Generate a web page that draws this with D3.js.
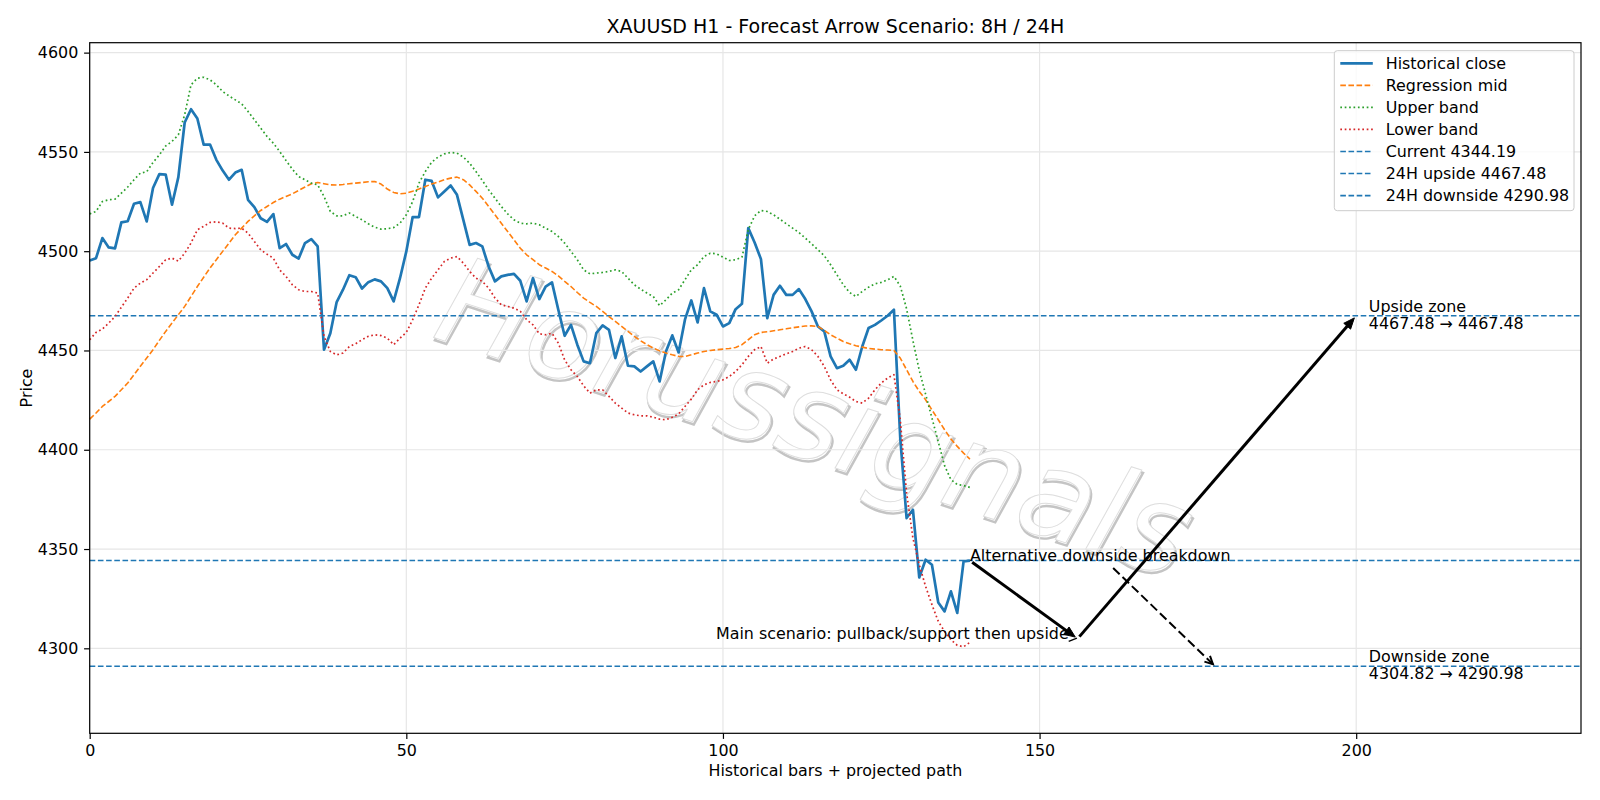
<!DOCTYPE html>
<html>
<head>
<meta charset="utf-8">
<script src="https://cdn.jsdelivr.net/npm/d3@7"></script>
<style>
  body { margin: 0; background: #fff; }
  svg { display: block; font-family: "DejaVu Sans", sans-serif; }
</style>
</head>
<body>
<svg id="chart"></svg>
<script>
// values, one per H1 bar (0..139)
const closeSeries = [
  4495.3, 4496.5, 4506.6, 4501.9, 4501.4, 4514.5, 4515.1, 4523.9, 4524.7, 4515.0,
  4531.8, 4538.8, 4538.6, 4523.4, 4537.3, 4564.8, 4571.5, 4566.8, 4553.7, 4553.7,
  4546.0, 4540.6, 4536.0, 4539.6, 4541.0, 4525.9, 4522.2, 4516.6, 4514.8, 4518.7,
  4501.5, 4503.6, 4498.2, 4496.3, 4504.1, 4506.1, 4502.4, 4450.4, 4458.7, 4474.4,
  4480.6, 4487.9, 4486.9, 4481.2, 4484.4, 4485.8, 4484.8, 4481.4, 4474.7, 4486.4,
  4499.9, 4517.2, 4517.2, 4536.0, 4535.4, 4527.1, 4530.1, 4533.1, 4528.4, 4515.8,
  4503.2, 4504.1, 4502.4, 4492.3, 4484.8, 4487.3, 4488.1, 4488.6, 4485.1, 4474.7,
  4486.4, 4475.9, 4482.2, 4484.3, 4470.5, 4457.4, 4462.9, 4452.9, 4444.5, 4443.6,
  4458.7, 4462.6, 4460.4, 4446.2, 4457.1, 4442.3, 4442.0, 4439.4, 4442.0, 4444.5,
  4434.4, 4449.5, 4457.6, 4449.0, 4465.5, 4475.2, 4464.1, 4481.4, 4469.7, 4468.0,
  4462.1, 4463.8, 4470.8, 4473.5, 4511.6, 4504.4, 4496.0, 4466.3, 4478.0, 4482.6,
  4478.0, 4478.0, 4480.9, 4475.9, 4469.7, 4462.1, 4459.6, 4447.0, 4441.1, 4442.3,
  4445.3, 4440.3, 4452.0, 4461.3, 4462.9, 4465.1, 4467.5, 4470.5, 4405.9, 4365.6,
  4369.8, 4335.7, 4344.6, 4342.1, 4323.1, 4318.6, 4328.7, 4317.8, 4343.8, 4344.19
];

const regMid = [
  4415.4, 4418.5, 4421.8, 4424.3, 4426.9, 4430.2, 4433.6, 4437.8, 4442.0, 4446.2,
  4450.4, 4455.1, 4459.6, 4463.8, 4468.0, 4472.2, 4477.2, 4482.2, 4486.9, 4491.5,
  4495.7, 4499.9, 4504.1, 4508.3, 4511.6, 4515.0, 4517.8, 4520.5, 4522.5, 4524.5,
  4526.2, 4527.6, 4528.9, 4530.6, 4532.3, 4534.0, 4534.6, 4534.0, 4533.4, 4533.3,
  4533.6, 4534.0, 4534.3, 4534.6, 4535.0, 4535.1, 4533.8, 4531.3, 4529.6, 4528.9,
  4529.2, 4530.2, 4531.3, 4532.6, 4533.8, 4534.8, 4536.0, 4536.8, 4537.3, 4536.0,
  4533.4, 4530.1, 4526.7, 4522.5, 4518.3, 4514.1, 4509.9, 4505.7, 4501.5, 4498.2,
  4495.7, 4493.2, 4491.5, 4489.8, 4487.6, 4484.8, 4482.2, 4479.2, 4476.4, 4474.2,
  4472.2, 4469.7, 4467.1, 4464.6, 4462.1, 4459.6, 4457.1, 4454.9, 4452.9, 4451.2,
  4449.8, 4448.7, 4447.8, 4447.0, 4447.0, 4447.8, 4448.7, 4449.5, 4450.0, 4450.4,
  4450.7, 4451.0, 4451.5, 4452.9, 4455.4, 4457.9, 4459.1, 4459.4, 4459.9, 4460.4,
  4460.9, 4461.4, 4461.9, 4462.3, 4462.4, 4462.1, 4460.1, 4457.9, 4456.2, 4454.5,
  4453.4, 4452.4, 4451.7, 4451.0, 4450.7, 4450.4, 4450.2, 4450.0, 4446.2, 4440.3,
  4434.4, 4429.4, 4425.2, 4420.1, 4415.1, 4410.1, 4405.4, 4401.7, 4398.3, 4395.3
];

const upperBand = [
  4518.8, 4520.0, 4525.0, 4525.9, 4526.2, 4529.2, 4532.3, 4536.0, 4539.3, 4540.0,
  4544.7, 4548.5, 4553.0, 4555.3, 4558.6, 4568.7, 4583.8, 4587.1, 4587.6, 4586.3,
  4583.8, 4580.4, 4578.2, 4576.2, 4574.2, 4570.4, 4566.2, 4562.0, 4557.8, 4554.4,
  4550.2, 4545.7, 4541.3, 4537.6, 4536.0, 4534.3, 4533.4, 4527.6, 4520.0, 4517.8,
  4517.8, 4519.2, 4517.5, 4515.8, 4513.8, 4512.1, 4511.1, 4511.3, 4511.9, 4514.1,
  4518.3, 4525.0, 4534.3, 4540.1, 4544.8, 4547.4, 4549.0, 4549.7, 4549.4, 4547.4,
  4544.3, 4540.1, 4535.6, 4530.9, 4526.7, 4522.5, 4518.8, 4515.8, 4514.1, 4513.8,
  4514.1, 4513.3, 4511.6, 4509.9, 4507.4, 4504.1, 4499.9, 4495.7, 4490.6, 4488.6,
  4489.0, 4489.3, 4489.8, 4490.6, 4489.8, 4486.4, 4483.1, 4480.9, 4478.9, 4477.2,
  4472.6, 4475.5, 4478.9, 4480.6, 4485.6, 4490.6, 4493.2, 4497.3, 4499.0, 4498.7,
  4497.0, 4495.3, 4495.7, 4497.0, 4510.8, 4517.8, 4520.5, 4520.0, 4518.3, 4516.1,
  4513.8, 4511.6, 4509.4, 4506.6, 4503.7, 4500.7, 4497.7, 4493.2, 4488.1, 4483.1,
  4479.2, 4477.2, 4479.7, 4481.9, 4483.6, 4484.3, 4485.6, 4487.3, 4482.5, 4471.0,
  4455.0, 4440.0, 4428.0, 4416.0, 4404.0, 4392.0, 4385.0, 4382.5, 4382.0, 4381.0
];

const lowerBand = [
  4455.4, 4459.1, 4460.8, 4463.8, 4467.1, 4471.8, 4476.4, 4481.4, 4483.9, 4485.6,
  4489.0, 4492.3, 4495.7, 4496.5, 4495.0, 4499.0, 4504.1, 4510.8, 4512.5, 4514.5,
  4514.8, 4514.1, 4511.6, 4511.4, 4511.6, 4509.1, 4504.9, 4500.7, 4498.5, 4496.5,
  4490.6, 4487.3, 4483.1, 4480.6, 4479.7, 4479.7, 4478.9, 4457.1, 4449.5, 4447.8,
  4448.7, 4452.0, 4453.4, 4455.4, 4457.1, 4457.9, 4457.5, 4456.2, 4452.9, 4456.2,
  4459.1, 4465.5, 4473.0, 4481.4, 4486.4, 4490.6, 4494.8, 4496.5, 4497.3, 4494.0,
  4489.8, 4486.4, 4484.8, 4481.4, 4476.4, 4473.0, 4472.2, 4471.3, 4469.7, 4465.5,
  4462.9, 4458.4, 4457.9, 4458.7, 4453.7, 4445.3, 4440.3, 4436.9, 4432.2, 4428.5,
  4430.2, 4430.2, 4426.9, 4423.5, 4421.0, 4418.5, 4417.6, 4417.1, 4417.1, 4416.4,
  4415.4, 4415.1, 4416.4, 4418.0, 4421.8, 4425.5, 4430.2, 4432.7, 4433.9, 4434.4,
  4435.2, 4436.9, 4439.4, 4442.8, 4447.0, 4450.4, 4452.0, 4443.6, 4445.7, 4447.0,
  4448.3, 4449.5, 4451.2, 4452.0, 4450.4, 4447.0, 4442.0, 4435.2, 4430.2, 4428.2,
  4426.5, 4424.3, 4423.5, 4426.0, 4430.2, 4433.6, 4436.1, 4437.8, 4415.1, 4378.2,
  4355.5, 4342.1, 4331.2, 4322.0, 4313.6, 4308.5, 4304.3, 4301.5, 4300.8, 4303.0
];

// horizontal reference levels
const levelValues = [4344.19, 4467.48, 4290.98];
const levelNames = ["Current 4344.19", "24H upside 4467.48", "24H downside 4290.98"];

// projected path: current -> pullback -> upside target, and the alternative breakdown
const mainPath = [[139, 4344.19], [156, 4304.82], [200, 4467.48]];
const altPath = [[161.3, 4341.4], [177.7, 4290.98]];

const seriesNames = ["Historical close", "Regression mid", "Upper band", "Lower band"];
const xTicks = [0, 50, 100, 150, 200];
const yTicks = [4300, 4350, 4400, 4450, 4500, 4550, 4600];

const titleText = "XAUUSD H1 - Forecast Arrow Scenario: 8H / 24H";
const zoneUp = ["Upside zone", "4467.48 \u2192 4467.48"];
const zoneDown = ["Downside zone", "4304.82 \u2192 4290.98"];

const width = 1600, height = 800;
const margin = { top: 42.7, right: 19, bottom: 66.7, left: 89.7 };
const fs = 15.9;

const svg = d3.select("#chart").attr("width", width).attr("height", height);

const x = d3.scaleLinear().domain([0, 235.5]).range([margin.left, width - margin.right]);
const y = d3.scaleLinear().domain([4257.2, 4605]).range([height - margin.bottom, margin.top]);

const plotW = width - margin.left - margin.right;
const plotH = height - margin.top - margin.bottom;

// watermark sits behind everything
const wm = svg.append("g")
  .attr("transform", `translate(${margin.left + plotW * 0.487},${margin.top + plotH * 0.54}) rotate(18)`);
wm.append("text")
  .attr("text-anchor", "middle").attr("dy", "0.36em")
  .attr("transform", "translate(2,2.2)")
  .style("font-size", "122px").style("font-style", "italic")
  .attr("fill", "none").attr("stroke", "#c4c4c4").attr("stroke-width", 2.4)
  .text("Horussignals");
wm.append("text")
  .attr("text-anchor", "middle").attr("dy", "0.36em")
  .style("font-size", "122px").style("font-style", "italic")
  .attr("fill", "#fff").attr("stroke", "#dedede").attr("stroke-width", 1)
  .text("Horussignals");

// grid
const grid = svg.append("g").attr("stroke", "#e6e6e6").attr("stroke-width", 1.2);
grid.selectAll(".gx").data(xTicks).enter().append("line")
  .attr("x1", d => x(d)).attr("x2", d => x(d))
  .attr("y1", margin.top).attr("y2", height - margin.bottom);
grid.selectAll(".gy").data(yTicks).enter().append("line")
  .attr("x1", margin.left).attr("x2", width - margin.right)
  .attr("y1", d => y(d)).attr("y2", d => y(d));

const line = d3.line().x((d, i) => x(i)).y(d => y(d));

const styles = [
  { color: "#1f77b4", w: 2.7, dash: null },
  { color: "#ff7f0e", w: 1.6, dash: "5.6,2.5" },
  { color: "#2ca02c", w: 1.7, dash: "1.7,2.7" },
  { color: "#d62728", w: 1.7, dash: "1.7,2.7" }
];
const levelStyle = { color: "#1f77b4", w: 1.6, dash: "5.6,2.6" };

const plot = svg.append("g");

// reference levels across the whole axis
plot.selectAll(".level").data(levelValues).enter().append("line")
  .attr("x1", margin.left).attr("x2", width - margin.right)
  .attr("y1", d => y(d)).attr("y2", d => y(d))
  .attr("stroke", levelStyle.color).attr("stroke-width", levelStyle.w)
  .attr("stroke-dasharray", levelStyle.dash);

[closeSeries, regMid, upperBand, lowerBand].forEach((s, k) => {
  plot.append("path")
    .datum(s)
    .attr("d", line)
    .attr("fill", "none")
    .attr("stroke", styles[k].color)
    .attr("stroke-width", styles[k].w)
    .attr("stroke-dasharray", styles[k].dash)
    .attr("stroke-linejoin", "round");
});

// arrows, shrunk at both ends like matplotlib annotate
function arrow(p0, p1, opt) {
  const a0 = [x(p0[0]), y(p0[1])], b0 = [x(p1[0]), y(p1[1])];
  const dx = b0[0] - a0[0], dy = b0[1] - a0[1], len = Math.hypot(dx, dy);
  const ux = dx / len, uy = dy / len, nx = -uy, ny = ux;
  const s = 2.8;
  const a = [a0[0] + ux * s, a0[1] + uy * s];
  const b = [b0[0] - ux * s, b0[1] - uy * s];
  const hl = opt.hl, hw = opt.hw;
  const g = plot.append("g");
  const end = opt.filled ? [b[0] - ux * hl, b[1] - uy * hl] : b;
  g.append("line")
    .attr("x1", a[0]).attr("y1", a[1]).attr("x2", end[0]).attr("y2", end[1])
    .attr("stroke", "#000").attr("stroke-width", opt.w)
    .attr("stroke-dasharray", opt.dash || null);
  const c1 = [b[0] - ux * hl + nx * hw, b[1] - uy * hl + ny * hw];
  const c2 = [b[0] - ux * hl - nx * hw, b[1] - uy * hl - ny * hw];
  if (opt.filled) {
    g.append("path")
      .attr("d", `M${b}L${c1}L${c2}Z`)
      .attr("fill", "#000").attr("stroke", "#000").attr("stroke-width", 1)
      .attr("stroke-linejoin", "miter");
  } else {
    g.append("path")
      .attr("d", `M${c1}L${b}L${c2}`)
      .attr("fill", "none").attr("stroke", "#000").attr("stroke-width", opt.w);
  }
}

arrow(mainPath[0], mainPath[1], { w: 3, hl: 11, hw: 4.5, filled: true });
arrow(mainPath[1], mainPath[2], { w: 3, hl: 11, hw: 4.5, filled: true });
arrow(altPath[0], altPath[1], { w: 2, hl: 8, hw: 4, filled: false, dash: "9,4" });

// annotation texts
const txt = svg.append("g").style("font-size", fs + "px").attr("fill", "#000");
txt.append("text")
  .attr("x", x(mainPath[0][0])).attr("y", y(mainPath[0][1]))
  .text("Alternative downside breakdown");
txt.append("text")
  .attr("x", x(154.6)).attr("y", y(mainPath[1][1]))
  .attr("text-anchor", "end")
  .text("Main scenario: pullback/support then upside");
// tiny leader from the label to the pivot
plot.append("line")
  .attr("x1", x(154.6)).attr("y1", y(mainPath[1][1]) + 2.7)
  .attr("x2", x(155.9)).attr("y2", y(mainPath[1][1]) - 0.7)
  .attr("stroke", "#000").attr("stroke-width", 1.3);

[[zoneUp, levelValues[1]], [zoneDown, levelValues[2]]].forEach(([lines, v]) => {
  const t = txt.append("text").attr("x", x(202)).attr("y", y(v));
  t.append("tspan").attr("x", x(202)).attr("dy", -4.2).text(lines[0]);
  t.append("tspan").attr("x", x(202)).attr("dy", 17).text(lines[1]);
});

// axes
const xAxis = svg.append("g")
  .attr("transform", `translate(0,${height - margin.bottom})`)
  .call(d3.axisBottom(x).tickValues(xTicks).tickFormat(d3.format("d")).tickSize(5.6).tickPadding(5.8));
const yAxis = svg.append("g")
  .attr("transform", `translate(${margin.left},0)`)
  .call(d3.axisLeft(y).tickValues(yTicks).tickFormat(d3.format("d")).tickSize(5.6).tickPadding(5.8));
[xAxis, yAxis].forEach(ax => {
  ax.select(".domain").remove();
  ax.selectAll("line").attr("stroke", "#000").attr("stroke-width", 1.2);
  ax.selectAll("text").style("font-size", fs + "px").style("font-family", "DejaVu Sans").attr("fill", "#000");
});

// frame
svg.append("rect")
  .attr("x", margin.left).attr("y", margin.top)
  .attr("width", plotW).attr("height", plotH)
  .attr("fill", "none").attr("stroke", "#000").attr("stroke-width", 1.2);

svg.append("text")
  .attr("x", margin.left + plotW / 2).attr("y", 33)
  .attr("text-anchor", "middle").style("font-size", "19px")
  .text(titleText);
svg.append("text")
  .attr("x", margin.left + plotW / 2).attr("y", 776)
  .attr("text-anchor", "middle").style("font-size", fs + "px")
  .text("Historical bars + projected path");
svg.append("text")
  .attr("transform", `translate(32,${margin.top + plotH / 2}) rotate(-90)`)
  .attr("text-anchor", "middle").style("font-size", fs + "px")
  .text("Price");

// legend
const legendNames = seriesNames.concat(levelNames);
const legendStyles = styles.concat([levelStyle, levelStyle, levelStyle]);
const lg = svg.append("g").attr("transform", "translate(1334.3,50.7)");
lg.append("rect")
  .attr("width", 239.7).attr("height", 160)
  .attr("rx", 3).attr("fill", "#fff").attr("fill-opacity", 0.8)
  .attr("stroke", "#cccccc").attr("stroke-width", 1);
const rows = lg.selectAll(".row").data(legendNames).enter().append("g")
  .attr("transform", (d, i) => `translate(0,${12.6 + i * 22.05})`);
rows.append("line")
  .attr("x1", 6).attr("x2", 38.5)
  .attr("stroke", (d, i) => legendStyles[i].color)
  .attr("stroke-width", (d, i) => legendStyles[i].w)
  .attr("stroke-dasharray", (d, i) => legendStyles[i].dash);
rows.append("text")
  .attr("x", 51.4).attr("dy", "0.36em")
  .style("font-size", fs + "px")
  .text(d => d);
</script>
</body>
</html>
